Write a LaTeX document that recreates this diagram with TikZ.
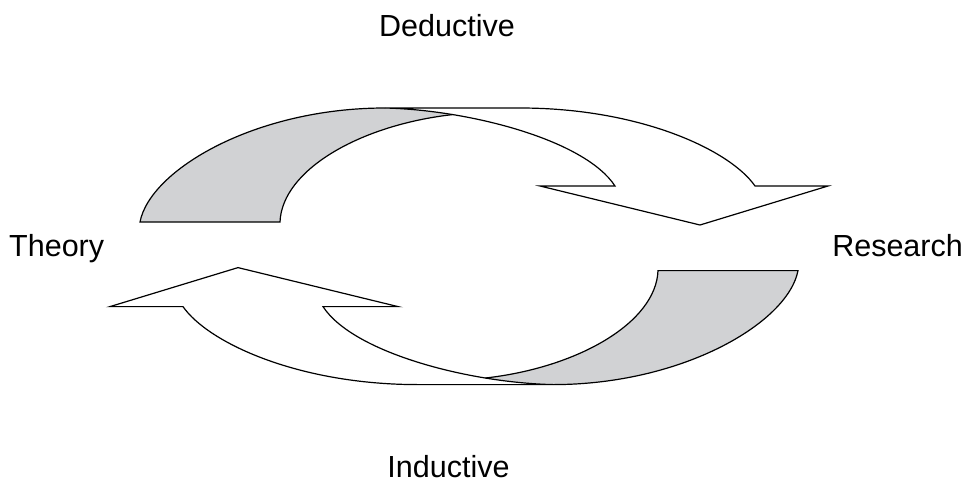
\documentclass[tikz,border=0pt]{standalone}
\usepackage{fontspec}
\setmainfont{Liberation Sans}
\definecolor{ribbongray}{RGB}{209,210,212}
\tikzset{
  outline/.style={draw=black, line width=1.2pt, line join=miter},
  backside/.style={fill=ribbongray},
  lbl/.style={inner sep=0pt, font=\fontsize{30.5}{36}\selectfont, anchor=base}
}
\begin{document}
\begin{tikzpicture}[x=1pt,y=1pt]
\useasboundingbox (0,0) rectangle (968,-479);
% one twisted ribbon arrow, drawn twice (second rotated 180 deg)
\foreach \ang in {0,180}{
\begin{scope}[rotate around={\ang:(469,-246.3)}]
  % grey back side of the ribbon
  \path[backside] (140,-222) -- (280,-222)
     .. controls (282,-170) and (360,-125) .. (452.6,-114.6)
     .. controls (429.4,-110.75) and (406.25,-108.5) .. (385,-108)
     .. controls (255,-108) and (150,-170) .. (140,-222) -- cycle;
  \draw[outline] (385,-108) .. controls (255,-108) and (150,-170) .. (140,-222)
     -- (280,-222) .. controls (282,-170) and (360,-125) .. (452.6,-114.6);
  % white front side with arrow head
  \draw[outline] (385,-108) -- (520,-108)
     .. controls (640,-108) and (730,-150) .. (755,-186)
     -- (828,-186) -- (700,-225) -- (540,-186) -- (615,-186)
     .. controls (585,-140) and (470,-110) .. (385,-108);
\end{scope}
}
\node[lbl] (ded) at (447,-36) {Deductive};
\node[lbl] (ind) at (448.5,-477) {Inductive};
\node[lbl, anchor=base west] (the) at (9,-256) {Theory};
\node[lbl, anchor=base east] (res) at (963,-256) {Research};
\end{tikzpicture}
\end{document}
